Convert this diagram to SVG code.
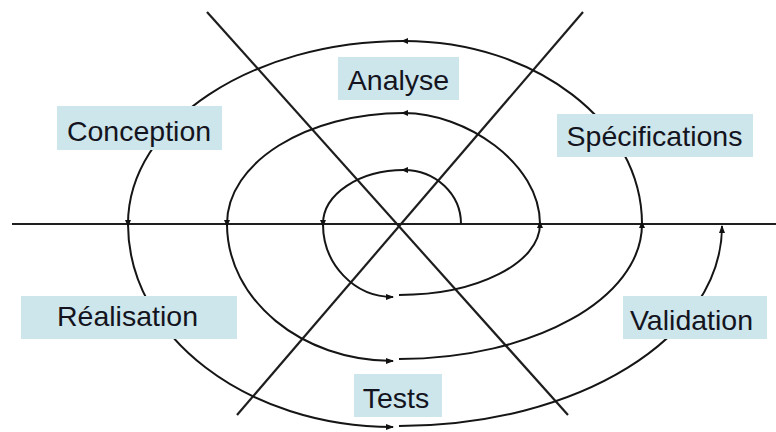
<svg xmlns="http://www.w3.org/2000/svg" width="776" height="432" viewBox="0 0 776 432">
<style>
.axis{stroke:#1e1e1e;stroke-width:2.2;fill:none}
.sp{stroke:#151515;stroke-width:2;fill:none}
.mid{marker-mid:url(#arr)}
.end{marker-end:url(#arrEnd)}
.box{fill:#cde6ec}
.lbl{font-family:"Liberation Sans",Arial,sans-serif;font-size:28.5px;fill:#141420;text-anchor:middle}
</style>
<defs>
<marker id="arr" markerUnits="userSpaceOnUse" markerWidth="10" markerHeight="8" refX="4" refY="3" orient="auto">
<path d="M0,0 L7,3 L0,6 z" fill="#111"/>
</marker>
<marker id="arrEnd" markerUnits="userSpaceOnUse" markerWidth="10" markerHeight="8" refX="7" refY="3" orient="auto">
<path d="M0,0 L8,3 L0,6 z" fill="#111"/>
</marker>
</defs>
<rect width="776" height="432" fill="#fff"/>
<g id="connectors">
<line class="axis" x1="12" y1="224" x2="776" y2="224"/>
<line class="axis" x1="207" y1="12" x2="568" y2="415"/>
<line class="axis" x1="583" y1="12" x2="237" y2="415"/>
<path class="sp mid end" d="M461,224 C461,194.2 435.5,170 404,170 C359.3,170 323,194.2 323,224 C323,264.3 354.3,297 393,297"/>
<path class="sp mid end" d="M399,295 C476.9,295 540,263.2 540,224 C540,162.7 464.9,113 404,113 C306.2,113 227,162.7 227,224 C227,299.7 301.3,361 393,361"/>
<path class="sp mid end" d="M399,359 C533.2,359 642,298.6 642,224 C642,122.9 535.4,41 404,41 C251.6,41 128,122.9 128,224 C128,336.1 246.6,427 393,427"/>
<path class="sp end" d="M399,426 C577.4,426 722,337.6 722,226"/>
</g>
<g id="analyse"><rect class="box" x="338" y="57" width="121" height="43"/><text class="lbl" x="398.5" y="90">Analyse</text></g>
<g id="conception"><rect class="box" x="57" y="106" width="165" height="44"/><text class="lbl" x="139" y="141">Conception</text></g>
<g id="specifications"><rect class="box" x="557" y="114" width="196" height="43"/><text class="lbl" x="654.5" y="146">Spécifications</text></g>
<g id="realisation"><rect class="box" x="21" y="296" width="216" height="43"/><text class="lbl" x="127.5" y="326">Réalisation</text></g>
<g id="validation"><rect class="box" x="623" y="296" width="144" height="43"/><text class="lbl" x="691.5" y="330">Validation</text></g>
<g id="tests"><rect class="box" x="354" y="374" width="88" height="43"/><text class="lbl" x="396" y="408">Tests</text></g>
</svg>
